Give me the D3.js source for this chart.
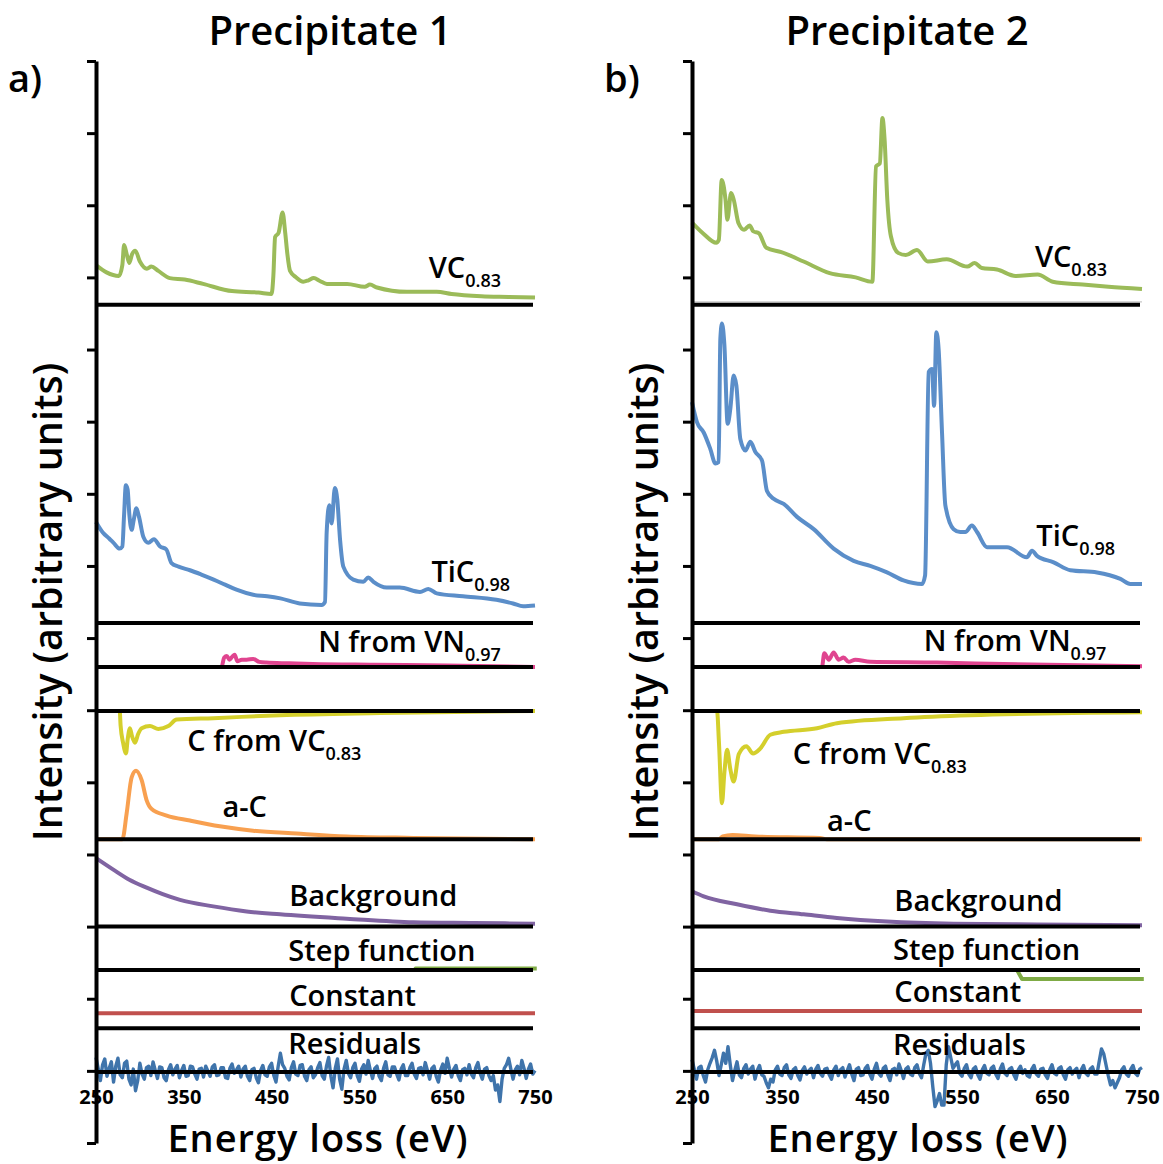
<!DOCTYPE html>
<html>
<head>
<meta charset="utf-8">
<script src="https://cdn.jsdelivr.net/npm/d3@7"></script>
<style>
  body { margin: 0; background: #fff; }
  svg text { font-family: "Open Sans", "DejaVu Sans", sans-serif; fill: #000; }
</style>
</head>
<body>
<svg id="chart" width="1163" height="1164"></svg>
<script>
// ---- data: [energy (eV), intensity above own baseline (one y-tick = 1 unit)] ----

// Precipitate 1
const vcA = [[250,0.55],[262,0.45],[276,0.40],[280,0.55],[282,0.83],[285,0.70],[288,0.58],[291,0.70],[294.7,0.75],[300,0.60],[308,0.50],[313,0.53],[321,0.47],[334,0.37],[351,0.35],[372,0.29],[405,0.19],[435,0.17],[450,0.15],[452,0.40],[454,0.94],[458,1.00],[462.5,1.28],[465.5,1.00],[468,0.70],[471,0.47],[478,0.38],[486,0.32],[492,0.34],[498,0.37],[505,0.33],[513,0.29],[536,0.29],[556,0.25],[562,0.28],[570,0.24],[604,0.18],[638,0.18],[655,0.15],[689,0.12],[720,0.11],[750,0.10]];
const ticA = [[250,1.40],[258,1.25],[265,1.17],[270,1.11],[277,1.03],[280,1.06],[282,1.50],[284,1.91],[286,1.85],[288,1.50],[290.6,1.29],[293,1.43],[296,1.59],[299,1.47],[304,1.19],[309.6,1.11],[316,1.16],[323,1.06],[330,1.02],[336,0.83],[344,0.78],[357,0.73],[370,0.67],[384,0.60],[397,0.53],[410,0.46],[429,0.39],[445,0.37],[460,0.34],[482,0.27],[507,0.25],[510.8,0.29],[512.7,1.25],[515.7,1.63],[518.4,1.38],[522,1.87],[524.8,1.71],[528,1.15],[531.7,0.78],[543,0.60],[554.5,0.57],[560,0.63],[566,0.57],[581,0.49],[596,0.49],[619,0.43],[628.5,0.47],[638,0.41],[668,0.37],[706,0.32],[725,0.27],[736.6,0.23],[750,0.24]];
const nA = [[250,0],[393,0],[396,0.13],[399,0.15],[402,0.10],[405,0.14],[408,0.17],[411,0.08],[416,0.10],[421.6,0.10],[429,0.11],[436,0.07],[444,0.06],[470,0.05],[497,0.04],[566,0.03],[650,0.02],[750,0]];
const cA = [[250,0],[277,0],[278,-0.20],[281,-0.45],[284.2,-0.59],[286,-0.40],[288.7,-0.24],[291,-0.35],[294.4,-0.44],[298,-0.32],[302,-0.24],[311.5,-0.21],[321,-0.25],[332.4,-0.21],[341.9,-0.12],[383.6,-0.10],[459.6,-0.06],[573.5,-0.03],[680,-0.01],[750,0]];
const acA = [[250,0],[280,0],[284.9,0.36],[290.6,0.86],[295.6,0.95],[302,0.82],[307.7,0.54],[313.4,0.42],[330.5,0.33],[357,0.26],[391,0.18],[429,0.12],[478.6,0.08],[535.5,0.04],[611.5,0.02],[750,0]];
const bgA = [[250,0.95],[269.7,0.79],[288,0.65],[307.7,0.54],[326,0.45],[345.7,0.37],[383.6,0.28],[421.6,0.21],[459.6,0.17],[535.5,0.11],[611.5,0.06],[680,0.05],[750,0.04]];
const stepA = [[250,0],[613,0],[614,0.02],[752,0.02]];
const constA = [[250,0.21],[750,0.21]];
const residA = [
  0.20,0.05,-0.12,0.10,0.18,-0.06,0.05,0.14,-0.14,0.08,
  0.19,-0.04,-0.08,0.12,0.15,-0.10,-0.18,0.04,-0.26,-0.12,
  0.12,-0.03,-0.10,0.06,0.08,-0.05,0.14,0.02,-0.09,0.07,
  0.06,-0.08,-0.12,0.03,0.10,-0.04,0.04,0.09,-0.08,0.02,
  0.09,-0.06,-0.05,0.08,0.07,-0.03,-0.10,0.04,0.05,-0.07,
  0.08,0.01,-0.06,0.07,0.10,-0.05,-0.04,0.06,0.06,-0.08,
  -0.09,0.05,0.11,-0.02,0.03,0.08,-0.07,0.04,0.08,-0.06,
  -0.12,0.03,0.05,-0.08,-0.15,0.02,0.09,-0.04,-0.06,0.07,
  0.12,-0.05,-0.14,0.08,0.26,0.10,0.05,-0.06,-0.11,0.06,
  0.14,-0.03,-0.05,0.09,0.10,-0.06,-0.12,0.03,0.07,-0.08,
  -0.04,0.06,0.13,-0.05,-0.10,0.08,0.20,-0.06,-0.22,0.05,
  0.18,-0.10,-0.24,0.04,0.16,-0.02,-0.08,0.06,0.12,-0.05,
  -0.13,0.04,0.10,-0.03,0.16,0.02,-0.09,0.05,0.08,-0.06,
  -0.12,0.05,0.14,-0.04,-0.06,0.07,0.07,-0.03,-0.11,0.04,
  0.10,-0.05,-0.05,0.06,0.12,-0.03,-0.09,0.05,0.06,-0.04,
  0.13,0.02,-0.10,0.05,0.08,-0.06,-0.14,0.03,0.11,-0.02,
  0.19,0.05,-0.07,0.04,0.09,-0.05,-0.12,0.03,0.05,-0.04,
  0.10,-0.03,-0.08,0.06,0.13,-0.02,-0.10,0.04,0.06,-0.05,
  -0.12,-0.05,-0.25,-0.18,-0.41,-0.10,0.05,0.10,0.19,0.04,
  -0.10,0.03,0.08,-0.04,0.16,0.05,-0.09,0.04,0.11,-0.03,
  0.02];

// Precipitate 2
const vcB = [[250,1.14],[262.4,0.99],[276.9,0.86],[279.8,0.90],[283,1.73],[287.2,1.46],[289.3,1.18],[293.4,1.55],[296.3,1.46],[301.7,1.13],[307.9,1.04],[314,1.10],[318,1.02],[324.4,0.99],[332.6,0.79],[349.2,0.73],[374,0.60],[403,0.44],[431.8,0.38],[450.4,0.32],[454.5,1.92],[458.7,1.96],[461.6,2.59],[464,2.29],[467,1.46],[471,0.95],[479,0.72],[487.6,0.69],[500,0.76],[512,0.60],[533,0.63],[555.8,0.53],[564,0.58],[572,0.51],[588.8,0.49],[609.5,0.40],[634,0.42],[650.8,0.32],[684,0.28],[712.8,0.25],[750,0.22]];
const ticB = [[250,3.06],[255.6,2.78],[263,2.64],[270.4,2.41],[276,2.21],[279.6,2.23],[281.5,3.94],[283.3,4.15],[286,3.85],[289.6,2.76],[292.6,2.97],[296.3,3.43],[299.3,3.29],[303.7,2.55],[309.3,2.39],[314.8,2.51],[320.4,2.37],[327.8,2.25],[333.3,1.83],[340.7,1.72],[351.9,1.65],[366.7,1.47],[385.2,1.30],[407.4,1.03],[429.6,0.86],[448,0.79],[466.7,0.70],[485,0.59],[505.6,0.54],[509,0.66],[513,3.48],[516.7,3.52],[519,3.01],[521.5,4.03],[524,3.80],[527.8,2.64],[531.5,1.63],[540.7,1.30],[548,1.26],[553.7,1.26],[561,1.35],[566.7,1.26],[577.8,1.05],[600,1.05],[622,0.91],[627.8,1.00],[633.3,0.93],[651.8,0.84],[670.4,0.73],[700,0.70],[726,0.61],[737,0.54],[750,0.54]];
const nB = [[250,0],[394.4,0],[397,0.19],[402,0.10],[407.4,0.20],[413,0.10],[418.5,0.13],[424,0.07],[431.5,0.10],[448,0.07],[522,0.06],[596,0.04],[750,0.01]];
const cB = [[250,0],[277.8,0],[280,-0.45],[283.3,-1.28],[286,-0.85],[289,-0.54],[292.5,-0.80],[296.3,-0.98],[302,-0.60],[310.4,-0.49],[317.8,-0.59],[326,-0.52],[337,-0.33],[351.9,-0.29],[388.9,-0.24],[411,-0.17],[485,-0.10],[559,-0.06],[750,-0.02]];
const acB = [[250,0],[280,0],[284,0.04],[295,0.06],[320,0.04],[392,0.02],[400,0],[750,0]];
const bgB = [[250,0.49],[263,0.42],[300,0.31],[337,0.22],[374,0.17],[411,0.12],[466.7,0.07],[540.7,0.04],[633,0.03],[750,0.02]];
const stepB = [[250,0],[611,0],[616.7,-0.125],[752,-0.125]];
const constB = [[250,0.24],[750,0.24]];
const residB = [
  0.17,0.04,-0.10,0.06,0.08,-0.05,-0.14,0.03,0.12,0.20,
  0.30,0.15,-0.05,0.10,0.26,0.12,0.35,0.10,-0.12,0.02,
  0.14,-0.04,-0.08,0.05,0.10,-0.03,0.04,0.08,-0.10,0.02,
  0.09,-0.04,-0.06,-0.15,-0.22,-0.10,-0.14,0.03,0.08,-0.03,
  -0.05,0.06,0.10,-0.04,-0.09,0.03,0.06,-0.05,-0.11,0.02,
  0.07,-0.03,0.02,0.05,-0.08,0.04,0.09,-0.02,-0.06,0.04,
  0.05,-0.04,-0.10,0.03,0.08,-0.05,0.03,0.06,-0.07,0.02,
  0.10,-0.03,-0.12,0.04,0.06,-0.05,-0.04,0.05,0.09,-0.03,
  -0.10,0.04,0.12,-0.02,-0.06,0.05,0.08,-0.04,-0.12,0.03,
  0.05,-0.04,0.11,0.02,-0.09,0.04,0.07,-0.03,-0.05,0.06,
  0.10,-0.02,-0.08,0.10,0.26,0.30,0.12,-0.20,-0.48,-0.40,
  -0.30,-0.46,-0.46,0.10,0.35,0.20,0.05,0.10,0.14,-0.02,
  -0.06,0.05,0.10,-0.03,-0.08,0.04,0.07,-0.04,-0.10,0.03,
  0.09,-0.02,-0.04,0.05,0.08,-0.03,-0.09,0.04,0.11,-0.02,
  -0.05,0.04,0.06,-0.04,-0.10,0.03,0.08,-0.02,0.03,-0.05,
  -0.07,0.04,0.09,-0.03,-0.06,0.04,0.05,-0.04,-0.09,0.03,
  0.10,-0.02,-0.04,0.05,0.07,-0.04,-0.10,0.03,0.06,-0.03,
  0.02,0.05,-0.08,0.03,0.09,-0.02,-0.05,0.04,0.07,-0.03,
  -0.03,0.15,0.32,0.25,0.10,-0.05,-0.18,-0.12,-0.22,-0.15,
  -0.08,0.03,0.07,-0.03,-0.06,0.04,0.09,-0.02,-0.05,0.04,
  0.06];

const residEnergy = d3.range(250, 751, 2.5);
const xTicks = [250, 350, 450, 550, 650, 750];
const panelTitles = ["Precipitate 1", "Precipitate 2"];
const panelLetters = ["a)", "b)"];

// ---- layout ----
const svg = d3.select("#chart");
const y = d3.scaleLinear().domain([0, 15]).range([1143, 61]);
const bases = { vc: 11.62, tic: 7.21, n: 6.60, c: 5.99, ac: 4.21, bg: 3.0, step: 2.40, cst: 1.59, res: 0.985 };

const colors = { vc: "#9bbb59", tic: "#5b8ec9", n: "#e0448f", c: "#d4cf2c", ac: "#f8a050",
                 bg: "#8064a2", step: "#7fab45", cst: "#c0504d", res: "#3f74ab" };

const panels = [
  { x0: 96, x1: 535, cx: 330, letterX: 8, yLabX: 48, xLabX: 318,
    series: { vc: vcA, tic: ticA, n: nA, c: cA, ac: acA, bg: bgA, step: stepA, cst: constA,
              res: residEnergy.map((e, i) => [e, residA[i]]) },
    labels: [
      { t: "VC", sub: "0.83", e: 629, u: 11.99 },
      { t: "TiC", sub: "0.98", e: 632, u: 7.78 },
      { t: "N from VN", sub: "0.97", e: 503, u: 6.81 },
      { t: "C from VC", sub: "0.83", e: 354, u: 5.43 },
      { t: "a-C", e: 394, u: 4.52 },
      { t: "Background", e: 470, u: 3.28 },
      { t: "Step function", e: 469, u: 2.53 },
      { t: "Constant", e: 470, u: 1.90 },
      { t: "Residuals", e: 469, u: 1.23 } ] },
  { x0: 692, x1: 1142, cx: 907, letterX: 604, yLabX: 644, xLabX: 918,
    series: { vc: vcB, tic: ticB, n: nB, c: cB, ac: acB, bg: bgB, step: stepB, cst: constB,
              res: residEnergy.map((e, i) => [e, residB[i]]) },
    labels: [
      { t: "VC", sub: "0.83", e: 631, u: 12.15 },
      { t: "TiC", sub: "0.98", e: 632.6, u: 8.27 },
      { t: "N from VN", sub: "0.97", e: 507.4, u: 6.82 },
      { t: "C from VC", sub: "0.83", e: 362, u: 5.26 },
      { t: "a-C", e: 400, u: 4.32 },
      { t: "Background", e: 474.8, u: 3.21 },
      { t: "Step function", e: 473.3, u: 2.54 },
      { t: "Constant", e: 474.8, u: 1.95 },
      { t: "Residuals", e: 473.3, u: 1.22 } ] }
];

panels.forEach((p, pi) => {
  const x = d3.scaleLinear().domain([250, 750]).range([p.x0, p.x1]);
  const g = svg.append("g");

  // spectra (drawn under the black baselines)
  Object.keys(p.series).forEach(k => {
    const smooth = !(k === "res" || k === "step" || k === "cst");
    const line = d3.line()
      .curve(smooth ? d3.curveMonotoneX : d3.curveLinear)
      .x(d => x(d[0]))
      .y(d => y(bases[k] + d[1]));
    g.append("path")
      .datum(p.series[k])
      .attr("d", line)
      .attr("fill", "none")
      .attr("stroke", colors[k])
      .attr("stroke-width", k === "res" ? 3.4 : 4)
      .attr("stroke-linejoin", "round");
  });

  // faint grey line above VC baseline in panel b
  if (pi === 1) {
    g.append("line").attr("x1", p.x0).attr("x2", p.x1)
      .attr("y1", y(bases.vc) - 3).attr("y2", y(bases.vc) - 3)
      .attr("stroke", "#c8c8c8").attr("stroke-width", 1.2);
  }

  // black baselines
  g.selectAll("line.base")
    .data(Object.values(bases))
    .enter().append("line")
    .attr("class", "base")
    .attr("x1", p.x0).attr("x2", p.x1 - 2)
    .attr("y1", d => y(d)).attr("y2", d => y(d))
    .attr("stroke", "#000").attr("stroke-width", 4);

  // y axis (ticks only, no labels)
  const yAxis = g.append("g")
    .attr("transform", `translate(${p.x0},0)`)
    .call(d3.axisLeft(y).tickValues(d3.range(0, 16)).tickSize(9).tickSizeOuter(0).tickFormat(""));
  yAxis.select(".domain").attr("stroke-width", 4);
  yAxis.selectAll(".tick line").attr("stroke-width", 3);

  // x tick labels
  const xAxis = g.append("g")
    .attr("transform", "translate(0,1090)")
    .call(d3.axisBottom(x).tickValues(xTicks).tickSize(0).tickPadding(0));
  xAxis.select(".domain").remove();
  xAxis.selectAll("text")
    .style("font-family", "'Open Sans', sans-serif")
    .style("font-size", "20px").style("font-weight", "700").attr("fill", "#000");

  // series labels
  p.labels.forEach(l => {
    const t = g.append("text")
      .attr("x", x(l.e)).attr("y", y(l.u))
      .style("font-size", "29px").style("font-weight", "600")
      .text(l.t);
    if (l.sub) {
      t.append("tspan").attr("dy", 9).style("font-size", "18px").text(l.sub);
    }
  });

  // titles and axis labels
  svg.append("text").attr("x", p.cx).attr("y", 45).attr("text-anchor", "middle")
    .style("font-size", "40px").style("font-weight", "600").text(panelTitles[pi]);
  svg.append("text").attr("x", p.letterX).attr("y", 92)
    .style("font-size", "38px").style("font-weight", "600").text(panelLetters[pi]);
  svg.append("text")
    .attr("transform", `translate(${p.yLabX},602) rotate(-90)`)
    .attr("text-anchor", "middle").attr("dy", "0.36em")
    .style("font-size", "39.5px").style("font-weight", "600")
    .text("Intensity (arbitrary units)");
  svg.append("text").attr("x", p.xLabX).attr("y", 1152).attr("text-anchor", "middle")
    .style("font-size", "38px").style("font-weight", "600").style("letter-spacing", "1px")
    .text("Energy loss (eV)");
});
</script>
</body>
</html>
